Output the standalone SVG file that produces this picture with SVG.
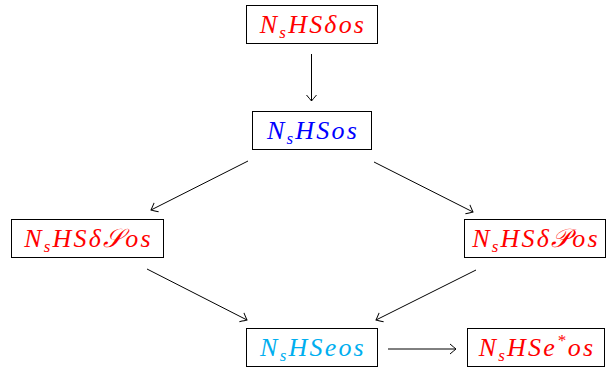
<svg xmlns="http://www.w3.org/2000/svg" width="607" height="372" viewBox="0 0 607 372">
<style>
.box{fill:#fff;stroke:#000;stroke-width:1}
.t{font-family:"Liberation Serif","DejaVu Serif",serif;font-style:italic;font-size:26px;letter-spacing:2.2px;text-anchor:middle}
.sub{font-size:17px}
.red{fill:#ff0000}
.blue{fill:#0000ff}
.cyan{fill:#00aeef}
.edge{stroke:#000;stroke-width:1;fill:none;marker-end:url(#ah)}
</style>
<defs>
<marker id="ah" viewBox="-7 -6 9 12" markerWidth="9" markerHeight="12" refX="0" refY="0" orient="auto" markerUnits="userSpaceOnUse">
<path d="M-6,-5 Q-1.5,-1.2 0,0 Q-1.5,1.2 -6,5" fill="none" stroke="#000" stroke-width="1"/>
</marker>
</defs>
<g id="n1"><rect class="box" x="246.5" y="5.5" width="131" height="38"/><text class="t red" x="313" y="33">N<tspan class="sub" dy="5">s</tspan><tspan dy="-5">HSδos</tspan></text></g>
<g id="n2"><rect class="box" x="252.5" y="111.5" width="119" height="38"/><text class="t blue" x="313" y="139">N<tspan class="sub" dy="5">s</tspan><tspan dy="-5">HSos</tspan></text></g>
<g id="n3"><rect class="box" x="11.5" y="219.5" width="152" height="38"/><text class="t red" x="88.5" y="247">N<tspan class="sub" dy="5">s</tspan><tspan dy="-5">HSδ𝒮os</tspan></text></g>
<g id="n4"><rect class="box" x="464.5" y="219.5" width="141" height="38"/><text class="t red" x="536" y="247">N<tspan class="sub" dy="5">s</tspan><tspan dy="-5">HSδ𝒫os</tspan></text></g>
<g id="n5"><rect class="box" x="246.5" y="328.5" width="131" height="38"/><text class="t cyan" x="313" y="356">N<tspan class="sub" dy="5">s</tspan><tspan dy="-5">HSeos</tspan></text></g>
<g id="n6"><rect class="box" x="467.5" y="328.5" width="137" height="38"/><text class="t red" x="537" y="356">N<tspan class="sub" dy="5">s</tspan><tspan dy="-5">HSe</tspan><tspan class="sub" dy="-10">*</tspan><tspan dy="10">os</tspan></text></g>
<g id="edges">
<line class="edge" x1="311.5" y1="54" x2="311.5" y2="101"/>
<line class="edge" x1="248" y1="161" x2="151" y2="210"/>
<line class="edge" x1="374" y1="162" x2="473" y2="212"/>
<line class="edge" x1="147" y1="269" x2="247" y2="320"/>
<line class="edge" x1="476" y1="270" x2="376" y2="320"/>
<line class="edge" x1="388" y1="349" x2="456" y2="349"/>
</g>
</svg>
